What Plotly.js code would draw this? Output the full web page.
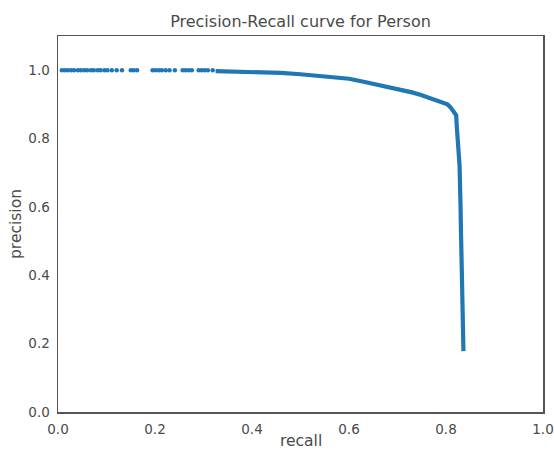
<!DOCTYPE html>
<html>
<head>
<meta charset="utf-8">
<script src="https://cdn.plot.ly/plotly-3.0.1.min.js"></script>
<style>html,body{margin:0;padding:0;background:#fff;}#chart{width:554px;height:450px;}</style>
</head>
<body>
<div id="chart"></div>
<script>
// Sparse high-confidence section (precision exactly 1.0), drawn as dots
const recallDots = [0.008, 0.014, 0.020, 0.027, 0.033, 0.041, 0.047, 0.054, 0.060, 0.068, 0.074, 0.082, 0.088, 0.096, 0.102,
  0.111, 0.121, 0.132,
  0.150, 0.156, 0.163,
  0.195, 0.201, 0.208, 0.214, 0.222, 0.230, 0.241,
  0.257, 0.263, 0.270, 0.276,
  0.290, 0.296, 0.302, 0.309,
  0.319];
const precisionDots = recallDots.map(() => 1.0);

// Dense section of the curve
const recallCurve = [0.325, 0.36, 0.40, 0.43, 0.46, 0.50, 0.53, 0.56, 0.60, 0.63, 0.665, 0.69, 0.712, 0.73,
  0.747, 0.765, 0.782, 0.794, 0.803, 0.809, 0.816, 0.821, 0.822, 0.823, 0.826, 0.828, 0.829, 0.830,
  0.831, 0.832, 0.833, 0.835, 0.836];
const precisionCurve = [0.997, 0.996, 0.996, 0.994, 0.992, 0.988, 0.984, 0.981, 0.975, 0.966, 0.956, 0.949,
  0.942, 0.935, 0.928, 0.918, 0.909, 0.905, 0.900, 0.892, 0.880, 0.868, 0.84, 0.80, 0.76, 0.72, 0.69,
  0.60, 0.52, 0.42, 0.33, 0.26, 0.178];

const xTicks = [0.0, 0.2, 0.4, 0.6, 0.8, 1.0];
const yTicks = [0.0, 0.2, 0.4, 0.6, 0.8, 1.0];

const blue = '#1f77b4';
const textColor = '#4a4a4a';
const frameColor = '#555555';
const font = 'DejaVu Sans, sans-serif';

const traces = [
  {x: recallDots, y: precisionDots, mode: 'markers', type: 'scatter',
   marker: {color: blue, size: 4.5, line: {width: 0}}, hoverinfo: 'skip'},
  {x: recallCurve, y: precisionCurve, mode: 'lines', type: 'scatter',
   line: {color: blue, width: 4.2}, hoverinfo: 'skip'}
];

const axisCommon = {
  showgrid: false, zeroline: false, showline: true, mirror: true,
  linecolor: frameColor, linewidth: 1.5,
  ticks: 'outside', ticklen: 4, tickcolor: 'rgba(0,0,0,0)',
  tickfont: {family: font, size: 13.5, color: textColor},
  tickformat: '.1f', fixedrange: true
};

const layout = {
  width: 554, height: 450,
  margin: {l: 58, r: 11, t: 36, b: 38},
  paper_bgcolor: '#ffffff', plot_bgcolor: '#ffffff',
  showlegend: false,
  title: {text: 'Precision-Recall curve for Person', x: 0.5, xref: 'paper',
          y: 1 - 21 / 450, yref: 'container', yanchor: 'middle',
          font: {family: font, size: 16, color: textColor}},
  xaxis: Object.assign({}, axisCommon, {
    range: [0, 1], tickvals: xTicks
  }),
  yaxis: Object.assign({}, axisCommon, {
    range: [0, 1.1], tickvals: yTicks,
    title: {text: 'precision', standoff: 3, font: {family: font, size: 15.5, color: textColor}}
  }),
  annotations: [{
    text: 'recall', xref: 'paper', yref: 'paper', x: 0.5, y: 0,
    xanchor: 'center', yanchor: 'top', yshift: -19, showarrow: false,
    borderpad: 0,
    font: {family: font, size: 15.5, color: textColor}
  }]
};

Plotly.newPlot('chart', traces, layout, {displayModeBar: false, staticPlot: true});
</script>
</body>
</html>
